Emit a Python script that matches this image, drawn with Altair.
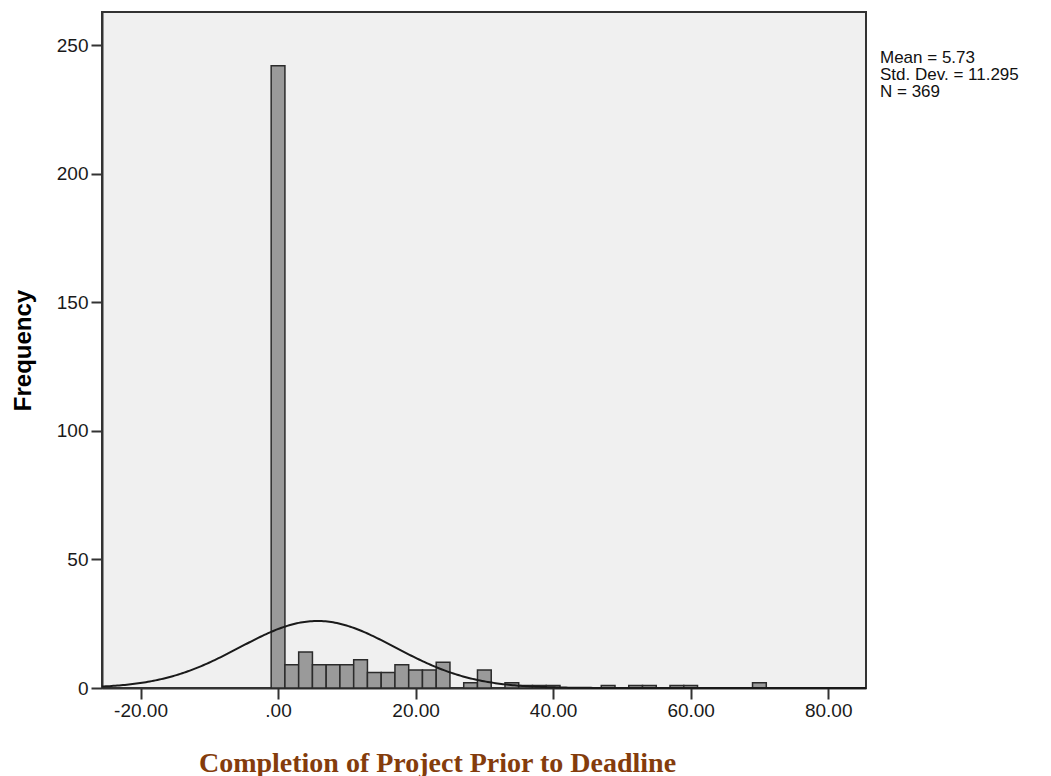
import math
import altair as alt
import pandas as pd

# Histogram bins (lower edge of each 2-unit bin) and their frequencies
BIN_WIDTH = 2
bin_lower = [-1, 1, 3, 5, 7, 9, 11, 13, 15, 17, 19, 21, 23,
             27, 29, 33, 35, 37, 39, 47, 51, 53, 57, 59, 69]
frequency = [242, 9, 14, 9, 9, 9, 11, 6, 6, 9, 7, 7, 10,
             2, 7, 2, 1, 1, 1, 1, 1, 1, 1, 1, 2]

# Summary statistics shown beside the plot
MEAN = 5.73
STD_DEV = 11.295
N = 369

# Axis settings
X_DOMAIN = [-25.6, 85.5]
Y_DOMAIN = [0, 262.9]
x_ticks = [-20, 0, 20, 40, 60, 80]
y_ticks = [0, 50, 100, 150, 200, 250]

bars_df = pd.DataFrame({
    "lower": bin_lower,
    "upper": [b + BIN_WIDTH for b in bin_lower],
    "count": frequency,
})

# Fitted normal curve scaled to counts per bin
steps = 400
xs = [X_DOMAIN[0] + (X_DOMAIN[1] - X_DOMAIN[0]) * i / steps for i in range(steps + 1)]
scale = N * BIN_WIDTH / (STD_DEV * math.sqrt(2 * math.pi))
curve_df = pd.DataFrame({
    "x": xs,
    "y": [scale * math.exp(-0.5 * ((v - MEAN) / STD_DEV) ** 2) for v in xs],
})

stats_df = pd.DataFrame({"label": [
    f"Mean = {MEAN:.2f}\nStd. Dev. = {STD_DEV:.3f}\nN = {N}"
]})

x_scale = alt.Scale(domain=X_DOMAIN, nice=False, zero=False)
y_scale = alt.Scale(domain=Y_DOMAIN, nice=False)

x_axis = alt.Axis(
    title="Completion of Project Prior to Deadline",
    values=x_ticks,
    labelExpr="(datum.value < 0 ? '-' : '') + (datum.value == 0 ? '.00' : format(abs(datum.value), '.2f'))",
    grid=False,
    tickSize=11,
    tickWidth=2,
    tickColor="#333333",
    labelFont="Liberation Sans",
    labelFontSize=19,
    labelColor="#1a1a1a",
    labelPadding=2,
    domainColor="#333333",
    domainWidth=2,
    titleFont="Liberation Serif",
    titleFontSize=28,
    titleFontWeight="bold",
    titleColor="#843C0C",
    titleX=335,
    titleY=83,
    titleBaseline="alphabetic",
    titleAnchor="middle",
    titleAlign="center",
)

y_axis = alt.Axis(
    title="Frequency",
    values=y_ticks,
    grid=False,
    tickSize=11,
    tickWidth=2,
    tickColor="#333333",
    labelFont="Liberation Sans",
    labelFontSize=19,
    labelColor="#1a1a1a",
    labelPadding=3,
    domainColor="#333333",
    domainWidth=2,
    titleFont="Liberation Sans",
    titleFontSize=24,
    titleFontWeight="bold",
    titleColor="#000000",
    titleAngle=270,
    titleX=-79,
    titleY=338,
    titleAlign="center",
    titleBaseline="middle",
)

bars = alt.Chart(bars_df).mark_bar(
    fill="#9a9a9a", stroke="#2b2b2b", strokeWidth=1.5
).encode(
    x=alt.X("lower:Q", scale=x_scale, axis=x_axis),
    x2="upper:Q",
    y=alt.Y("count:Q", scale=y_scale, axis=y_axis),
    y2=alt.datum(0),
)

curve = alt.Chart(curve_df).mark_line(
    color="#1a1a1a", strokeWidth=2
).encode(
    x=alt.X("x:Q", scale=x_scale),
    y=alt.Y("y:Q", scale=y_scale),
)

stats = alt.Chart(stats_df).mark_text(
    align="left", baseline="alphabetic", lineBreak="\n",
    font="Liberation Sans", fontSize=17, lineHeight=17, color="#111111",
).encode(
    x=alt.value(778),
    y=alt.value(51),
    text="label:N",
)

chart = alt.layer(bars, curve, stats).properties(
    width=764,
    height=676,
    autosize=alt.AutoSizeParams(type="none"),
    padding={"left": 102, "top": 12, "right": 185, "bottom": 88},
    background="white",
).configure_view(
    fill="#f0f0f0",
    stroke="#333333",
    strokeWidth=2,
)

chart.save("out.html", embed_options={"renderer": "svg", "actions": False})
